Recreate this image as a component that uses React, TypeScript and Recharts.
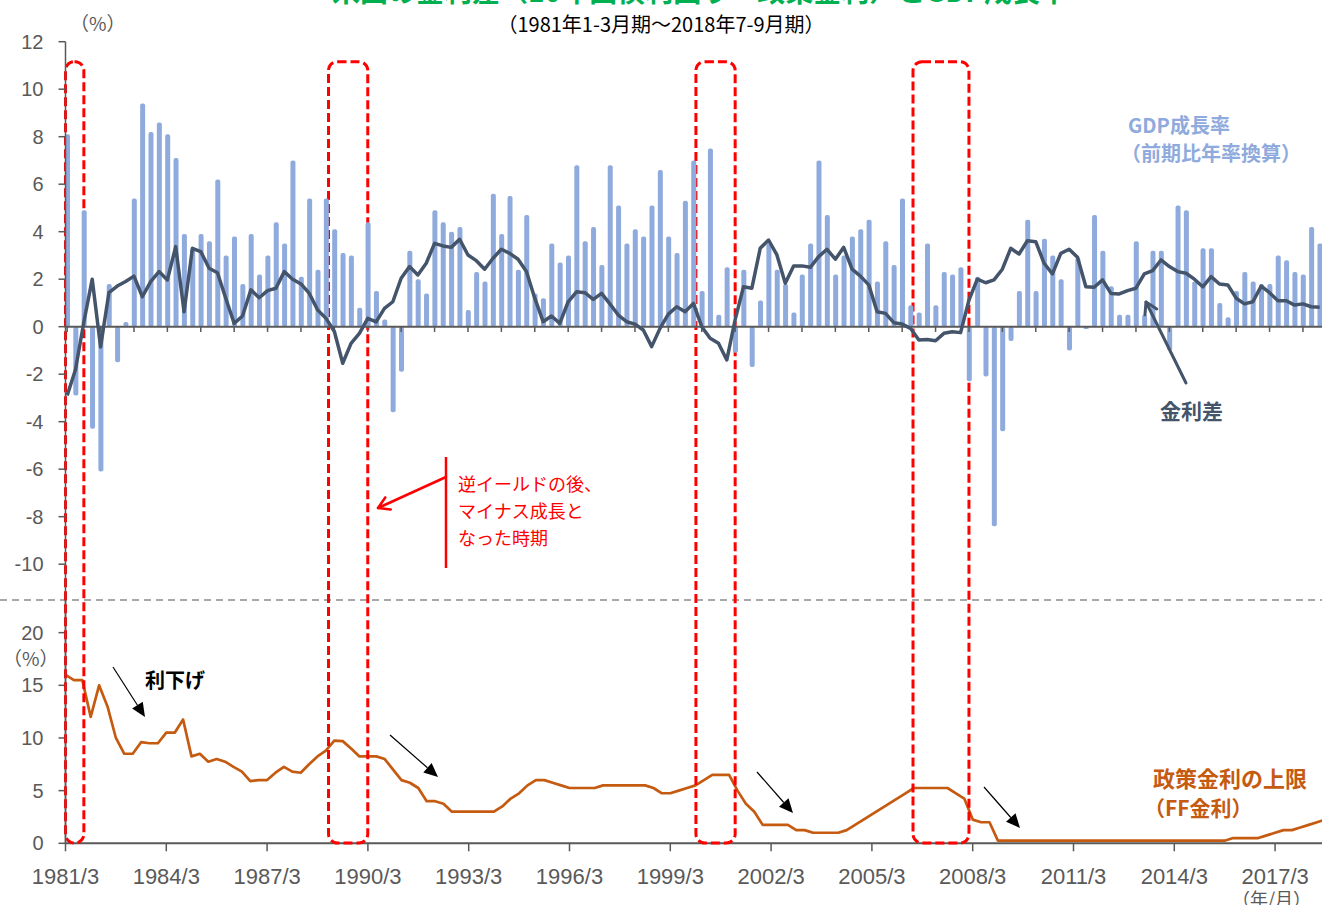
import React from 'react';
import { ComposedChart, Bar, Line, XAxis, YAxis, ReferenceLine, ReferenceArea } from 'recharts';

// quarterly, 1981 Q1 .. 2018 Q3
const GDP_GROWTH = [
  8.1, -2.9, 4.9, -4.3,
  -6.1, 1.8, -1.5, 0.2,
  5.4, 9.4, 8.2, 8.6,
  8.1, 7.1, 3.9, 3.3,
  3.9, 3.6, 6.2, 3.0,
  3.8, 1.8, 3.9, 2.2,
  3.0, 4.4, 3.5, 7.0,
  2.1, 5.4, 2.4, 5.4,
  4.1, 3.1, 3.0, 0.8,
  4.4, 1.5, 0.3, -3.6,
  -1.9, 3.2, 2.0, 1.4,
  4.9, 4.4, 4.0, 4.2,
  0.7, 2.3, 1.9, 5.6,
  3.9, 5.5, 2.4, 4.7,
  1.4, 1.2, 3.5, 2.7,
  3.0, 6.8, 3.6, 4.2,
  2.6, 6.8, 5.1, 3.5,
  4.1, 3.8, 5.1, 6.6,
  3.8, 3.1, 5.3, 7.0,
  1.5, 7.5, 0.5, 2.5,
  -1.1, 2.4, -1.7, 1.1,
  3.5, 2.4, 1.8, 0.6,
  2.2, 3.5, 7.0, 4.7,
  2.2, 3.0, 3.8, 4.1,
  4.5, 1.9, 3.6, 2.6,
  5.4, 0.9, 0.6, 3.5,
  0.9, 2.3, 2.2, 2.5,
  -2.3, 2.1, -2.1, -8.4,
  -4.4, -0.6, 1.5, 4.5,
  1.5, 3.7, 3.0, 2.0,
  -1.0, 2.9, -0.1, 4.7,
  3.2, 1.7, 0.5, 0.5,
  3.6, 0.5, 3.2, 3.2,
  -1.0, 5.1, 4.9, 1.9,
  3.3, 3.3, 1.0, 0.4,
  1.5, 2.3, 1.9, 1.8,
  1.8, 3.0, 2.8, 2.3,
  2.2, 4.2, 3.5,
];

// 10y yield minus policy rate
const RATE_SPREAD = [
  -2.9, -1.8, 0.2, 2.0,
  -0.85, 1.43, 1.71, 1.9,
  2.13, 1.26, 1.9, 2.32,
  1.97, 3.37, 0.63, 3.3,
  3.16, 2.46, 2.27, 1.19,
  0.14, 0.45, 1.55, 1.22,
  1.52, 1.62, 2.32, 2.0,
  1.8, 1.4, 0.7, 0.35,
  -0.2, -1.54, -0.7, -0.28,
  0.35, 0.2, 0.77, 1.05,
  2.04, 2.53, 2.18, 2.67,
  3.51, 3.4, 3.34, 3.68,
  3.02, 2.78, 2.42, 2.88,
  3.26, 3.09, 2.84, 2.32,
  1.2, 0.21, 0.45, 0.14,
  1.05, 1.47, 1.43, 1.15,
  1.4, 0.96, 0.49, 0.21,
  0.11, -0.14, -0.84, -0.07,
  0.53, 0.84, 0.63, 0.98,
  0.0, -0.49, -0.7, -1.4,
  0.3, 1.68, 1.62, 3.3,
  3.65, 3.02, 1.83, 2.56,
  2.56, 2.5, 2.95, 3.26,
  2.84, 3.34, 2.42, 2.13,
  1.76, 0.63, 0.56, 0.17,
  0.11, -0.07, -0.56, -0.54,
  -0.59, -0.28, -0.21, -0.25,
  1.12, 2.0, 1.85, 1.97,
  2.42, 3.3, 3.06, 3.62,
  3.58, 2.67, 2.22, 3.09,
  3.26, 2.92, 1.68, 1.66,
  1.97, 1.4, 1.38, 1.52,
  1.62, 2.22, 2.36, 2.81,
  2.53, 2.32, 2.25, 2.0,
  1.68, 2.11, 1.8, 1.76,
  1.2, 0.96, 1.05, 1.71,
  1.43, 1.09, 1.09, 0.91,
  0.96, 0.84, 0.82,
];

// FF target (upper bound)
const FF_UPPER = [
  16.0, 15.5, 15.5, 12.0,
  15.0, 13.0, 10.0, 8.5,
  8.5, 9.6, 9.5, 9.5,
  10.5, 10.5, 11.75, 8.25,
  8.5, 7.75, 8.0, 7.75,
  7.25, 6.8, 5.9, 6.0,
  6.0, 6.7, 7.25, 6.8,
  6.7, 7.5, 8.25, 8.8,
  9.75, 9.7, 9.0, 8.25,
  8.25, 8.25, 8.0, 7.0,
  6.0, 5.75, 5.25, 4.0,
  4.0, 3.75, 3.0, 3.0,
  3.0, 3.0, 3.0, 3.0,
  3.5, 4.25, 4.75, 5.5,
  6.0, 6.0, 5.75, 5.5,
  5.25, 5.25, 5.25, 5.25,
  5.5, 5.5, 5.5, 5.5,
  5.5, 5.5, 5.25, 4.75,
  4.75, 5.0, 5.25, 5.5,
  6.0, 6.5, 6.5, 6.5,
  5.0, 3.75, 3.0, 1.75,
  1.75, 1.75, 1.75, 1.25,
  1.25, 1.0, 1.0, 1.0,
  1.0, 1.25, 1.75, 2.25,
  2.75, 3.25, 3.75, 4.25,
  4.75, 5.25, 5.25, 5.25,
  5.25, 5.25, 4.75, 4.25,
  2.25, 2.0, 2.0, 0.25,
  0.25, 0.25, 0.25, 0.25,
  0.25, 0.25, 0.25, 0.25,
  0.25, 0.25, 0.25, 0.25,
  0.25, 0.25, 0.25, 0.25,
  0.25, 0.25, 0.25, 0.25,
  0.25, 0.25, 0.25, 0.25,
  0.25, 0.25, 0.25, 0.5,
  0.5, 0.5, 0.5, 0.75,
  1.0, 1.25, 1.25, 1.5,
  1.75, 2.0, 2.25,
];

const QUARTER_LABELS = GDP_GROWTH.map((_, i) => `${1981 + Math.floor(i / 4)}/${((i % 4) + 1) * 3}`);
const X_TICKS = [0, 12, 24, 36, 48, 60, 72, 84, 96, 108, 120, 132, 144];
const YEAR_MARKS = QUARTER_LABELS.map((_, i) => i).filter((i) => i % 4 === 0);
const TOP_TICKS = [-10, -8, -6, -4, -2, 0, 2, 4, 6, 8, 10, 12];
const BOTTOM_TICKS = [0, 5, 10, 15, 20];
// periods boxed in red: inverted curve followed by negative growth (quarter index ranges)
const BOXED_PERIODS = [
  [0, 1],
  [32, 35],
  [76, 79],
  [102, 107],
];

const data = QUARTER_LABELS.map((label, i) => ({
  idx: i,
  label,
  gdp: GDP_GROWTH[i],
  spread: RATE_SPREAD[i],
  ff: FF_UPPER[i],
}));

const GREY = '#595959';
const NUM_FONT = 'Liberation Sans, Arial, sans-serif';
const JP_FONT = '"Noto Sans CJK JP", "Noto Sans", sans-serif';

const TOP_X_MIN = -0.2;
const TOP_Y_MIN = -21.74;
const BOX_TOP = 11.16;

const DashedBox = (props: any) => {
  const { x, y, width, height } = props;
  return (
    <rect
      x={x}
      y={y}
      width={width}
      height={height}
      rx={9}
      ry={9}
      fill="none"
      stroke="#FF0000"
      strokeWidth={3}
      strokeDasharray="9 4"
    />
  );
};

type ArrowProps = {
  from: [number, number];
  to: [number, number];
  color: string;
  width: number;
  head: number;
  open?: boolean;
};

const Arrow = ({ from, to, color, width, head, open }: ArrowProps) => {
  const [x1, y1] = from;
  const [x2, y2] = to;
  const a = Math.atan2(y2 - y1, x2 - x1);
  const c = Math.cos(a);
  const s = Math.sin(a);
  const half = head * (open ? 0.6 : 0.45);
  const bx = x2 - head * c;
  const by = y2 - head * s;
  const p1 = `${bx - half * s},${by + half * c}`;
  const p2 = `${bx + half * s},${by - half * c}`;
  if (open) {
    return (
      <g stroke={color} strokeWidth={width} fill="none" strokeLinecap="round" strokeLinejoin="round">
        <line x1={x1} y1={y1} x2={x2} y2={y2} />
        <polyline points={`${p1} ${x2},${y2} ${p2}`} />
      </g>
    );
  }
  return (
    <g>
      <line x1={x1} y1={y1} x2={bx} y2={by} stroke={color} strokeWidth={width} />
      <polygon points={`${x2},${y2} ${p1} ${p2}`} fill={color} />
    </g>
  );
};

const GrowthPanel = () => (
  <ComposedChart width={1330} height={905} data={data} margin={{ top: 41.7, right: 5, bottom: 62, left: 0 }}>
    <XAxis dataKey="idx" type="number" domain={[TOP_X_MIN, 150.64]} allowDataOverflow hide />
    <YAxis
      type="number"
      domain={[TOP_Y_MIN, 12]}
      ticks={TOP_TICKS}
      allowDataOverflow
      interval={0}
      width={65.5}
      tickSize={7}
      tickMargin={15}
      axisLine={{ stroke: GREY, strokeWidth: 1.5 }}
      tickLine={{ stroke: GREY, strokeWidth: 1.5 }}
      tick={{ fill: GREY, fontSize: 20, fontFamily: NUM_FONT }}
    />
    <Bar dataKey="gdp" fill="#8FAADC" barSize={5} radius={2} isAnimationActive={false} />
    <ReferenceLine y={0} stroke={GREY} strokeWidth={2} />
    {YEAR_MARKS.map((i) => (
      <ReferenceLine
        key={`m${i}`}
        segment={[
          { x: i, y: 0 },
          { x: i, y: -0.22 },
        ]}
        stroke={GREY}
        strokeWidth={1.5}
      />
    ))}
    <Line
      dataKey="spread"
      type="linear"
      stroke="#44546A"
      strokeWidth={3.5}
      strokeLinejoin="round"
      dot={false}
      activeDot={false}
      isAnimationActive={false}
    />
    {BOXED_PERIODS.map(([a, b]) => (
      <ReferenceArea
        key={`b${a}`}
        x1={Math.max(a - 0.7, TOP_X_MIN)}
        x2={b + 1}
        y1={TOP_Y_MIN}
        y2={BOX_TOP}
        ifOverflow="visible"
        shape={DashedBox}
      />
    ))}
  </ComposedChart>
);

const RatePanel = () => (
  <ComposedChart width={1330} height={905} data={data} margin={{ top: 600, right: 4, bottom: 21.7, left: 0 }}>
    <XAxis
      dataKey="idx"
      type="number"
      domain={[0, 150.06]}
      allowDataOverflow
      ticks={X_TICKS}
      interval={0}
      height={40}
      tickFormatter={(v: number) => QUARTER_LABELS[v]}
      tickSize={8}
      tickMargin={17}
      axisLine={{ stroke: GREY, strokeWidth: 2 }}
      tickLine={{ stroke: GREY, strokeWidth: 1.5 }}
      tick={{ fill: GREY, fontSize: 22, fontFamily: NUM_FONT }}
    />
    <YAxis
      type="number"
      domain={[0, 23.1]}
      ticks={BOTTOM_TICKS}
      allowDataOverflow
      interval={0}
      width={65.5}
      tickSize={7}
      tickMargin={15}
      axisLine={{ stroke: GREY, strokeWidth: 1.5 }}
      tickLine={{ stroke: GREY, strokeWidth: 1.5 }}
      tick={{ fill: GREY, fontSize: 20, fontFamily: NUM_FONT }}
    />
    <Line
      dataKey="ff"
      type="linear"
      stroke="#C55A11"
      strokeWidth={2.7}
      strokeLinejoin="round"
      dot={false}
      activeDot={false}
      isAnimationActive={false}
    />
  </ComposedChart>
);

const App: React.FC = () => {
  return (
    <div
      style={{
        position: 'absolute',
        left: 0,
        top: 0,
        width: 1322,
        height: 905,
        overflow: 'hidden',
        background: '#ffffff',
      }}
    >
      <svg width={1322} height={905} style={{ position: 'absolute', left: 0, top: 0 }}>
        <line x1={0} y1={600} x2={1322} y2={600} stroke="#8C8C8C" strokeWidth={1.3} strokeDasharray="7 5" />
      </svg>
      <div style={{ position: 'absolute', left: 0, top: 0 }}>
        <RatePanel />
      </div>
      <div style={{ position: 'absolute', left: 0, top: 0 }}>
        <GrowthPanel />
      </div>
      <svg
        width={1322}
        height={905}
        style={{ position: 'absolute', left: 0, top: 0, pointerEvents: 'none' }}
        fontFamily={JP_FONT}
      >
        <text x={700} y={2} textAnchor="middle" fontSize={28} fontWeight="bold" fill="#00B050">
          米国の金利差（10年国債利回り－政策金利）とGDP成長率
        </text>
        <text x={661} y={32} textAnchor="middle" fontSize={20} fill="#000000">
          （1981年1-3月期～2018年7-9月期）
        </text>
        <text x={70} y={31} fontSize={19} fill={GREY}>
          （%）
        </text>
        <text x={3} y={666} fontSize={19} fill={GREY}>
          （%）
        </text>

        <text x={1128} y={133} fontSize={20} fontWeight="bold" fill="#8FAADC">
          GDP成長率
        </text>
        <text x={1121} y={161} fontSize={20} fontWeight="bold" fill="#8FAADC">
          （前期比年率換算）
        </text>

        <Arrow from={[1186, 383]} to={[1146, 302]} color="#44546A" width={3} head={11} open />
        <text x={1160} y={419} fontSize={21} fontWeight="bold" fill="#44546A">
          金利差
        </text>

        <line x1={446} y1={457} x2={446} y2={568} stroke="#FF0000" strokeWidth={2.5} />
        <Arrow from={[446, 477]} to={[378, 508]} color="#FF0000" width={2.5} head={11} open />
        <text x={458} y={491} fontSize={18} fill="#FF0000">
          逆イールドの後、
        </text>
        <text x={458} y={518} fontSize={18} fill="#FF0000">
          マイナス成長と
        </text>
        <text x={458} y={545} fontSize={18} fill="#FF0000">
          なった時期
        </text>

        <text x={145} y={688} fontSize={20} fontWeight="bold" fill="#000000">
          利下げ
        </text>
        <Arrow from={[113, 667]} to={[145, 717]} color="#000000" width={1.2} head={14} />
        <Arrow from={[390, 735]} to={[438, 777]} color="#000000" width={1.2} head={14} />
        <Arrow from={[757, 772]} to={[793, 813]} color="#000000" width={1.2} head={14} />
        <Arrow from={[984, 787]} to={[1020, 828]} color="#000000" width={1.2} head={14} />

        <text x={1153} y={787} fontSize={22} fontWeight="bold" fill="#C55A11">
          政策金利の上限
        </text>
        <text x={1144} y={816} fontSize={21} fontWeight="bold" fill="#C55A11">
          （FF金利）
        </text>

        <text x={1232} y={906} fontSize={18} fill={GREY}>
          （年/月）
        </text>
      </svg>
    </div>
  );
};

export default App;
